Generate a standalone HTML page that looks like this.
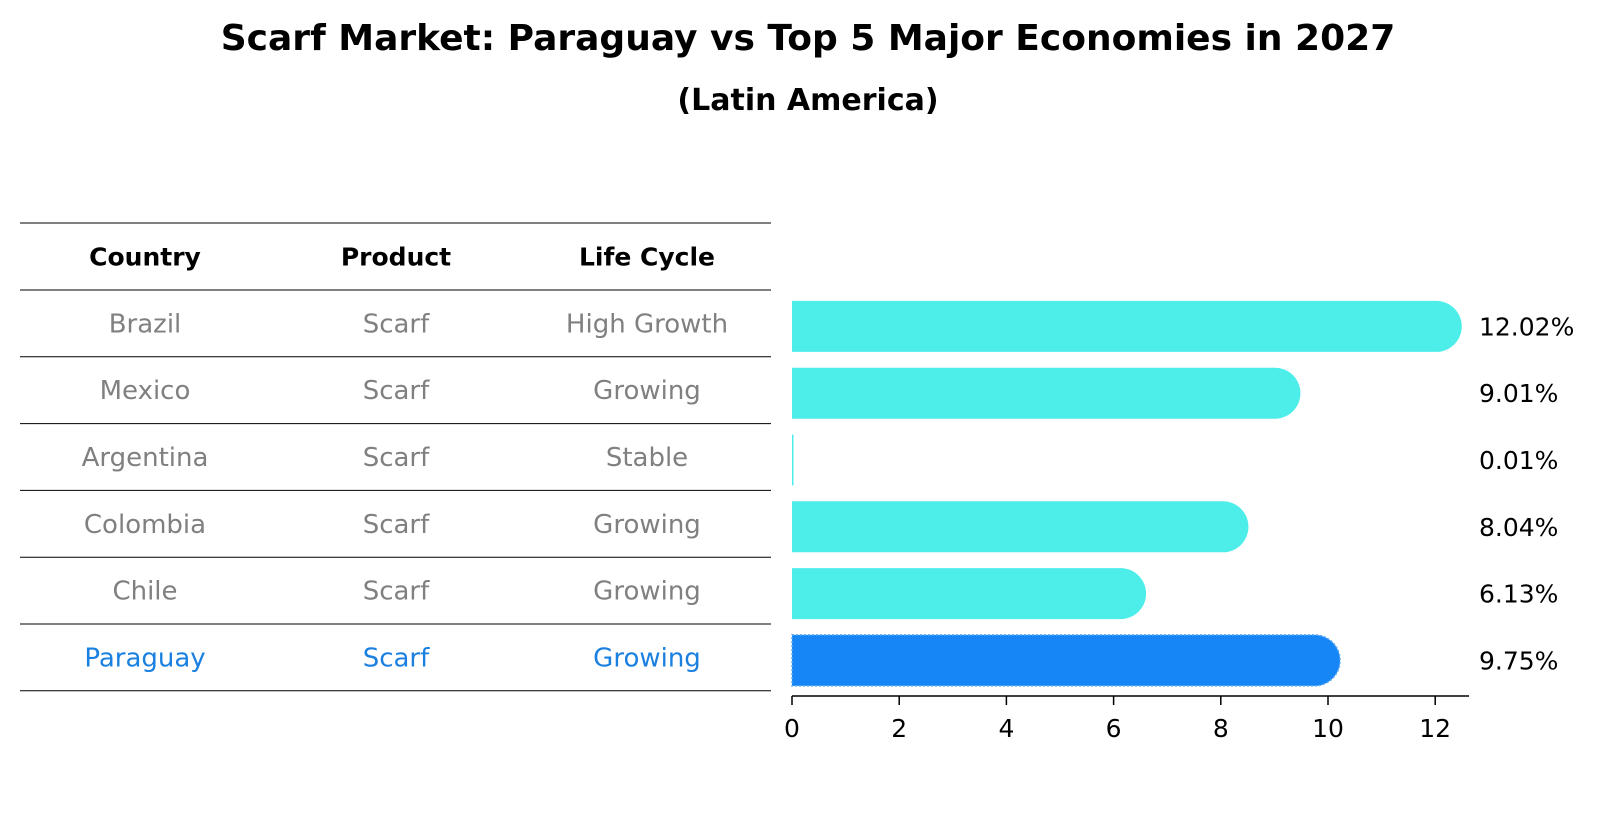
<!DOCTYPE html>
<html><head><meta charset="utf-8"><style>
body{margin:0;background:#fff;font-family:"DejaVu Sans","Liberation Sans",sans-serif;}
svg text{font-family:"DejaVu Sans","Liberation Sans",sans-serif;}
</style></head><body>
<svg id="chart" width="1604" height="823" viewBox="0 0 1604 823" xmlns="http://www.w3.org/2000/svg">
<text x="808" y="50" text-anchor="middle" font-size="36" font-weight="bold">Scarf Market: Paraguay vs Top 5 Major Economies in 2027</text>
<text x="808" y="110" text-anchor="middle" font-size="30" font-weight="bold">(Latin America)</text>
<g id="table"></g>
<g id="bars"></g>
<g id="axis"></g>
</svg>
<script>
const countries=["Brazil","Mexico","Argentina","Colombia","Chile","Paraguay"];
const products=["Scarf","Scarf","Scarf","Scarf","Scarf","Scarf"];
const lifeCycles=["High Growth","Growing","Stable","Growing","Growing","Growing"];
const values=[12.02,9.01,0.01,8.04,6.13,9.75];
const ticks=[0,2,4,6,8,10,12];
const NS="http://www.w3.org/2000/svg";
function mk(tag,attrs,parent){const e=document.createElementNS(NS,tag);for(const k in attrs)e.setAttribute(k,attrs[k]);parent.appendChild(e);return e;}
const x0=792,pxPer=53.6;
function xs(v){return x0+v*pxPer;}
const rowTop=290,rowH=66.8,headTop=223;
function rowCy(i){return rowTop+rowH*i+rowH/2;}
const table=document.getElementById('table');
const colX=[145,396,647];
const heads=["Country","Product","Life Cycle"];
heads.forEach((h,j)=>{const t=mk('text',{x:colX[j],y:headTop+rowH/2+9,'text-anchor':'middle','font-size':'25','font-weight':'bold'},table);t.textContent=h;

});
for(let i=0;i<=countries.length+1;i++){const y=i===0?headTop:rowTop+rowH*(i-1);const l=mk('line',{x1:20,x2:771,y1:y,y2:y,stroke:'#000','stroke-width':1},table);

}
countries.forEach((c,i)=>{const col=i===countries.length-1?'#1a80e0':'#808080';
[c,products[i],lifeCycles[i]].forEach((v,j)=>{const t=mk('text',{x:colX[j],y:rowCy(i)+9,'text-anchor':'middle','font-size':'26',fill:col},table);t.textContent=v;

});});
const bars=document.getElementById('bars');
const bh=51;
values.forEach((v,i)=>{const cy=rowCy(i)+3;const last=i===values.length-1;const col=last?'#1685f5':'#4deeea';
const w=xs(v)-x0;const r=v>0.5?bh/2:0;
const d=`M${x0},${cy-bh/2} H${x0+w} A${r},${r} 0 0 1 ${x0+w},${cy+bh/2} H${x0} Z`;
const p=mk('path',{d:d,fill:col},bars);
if(last){p.setAttribute('stroke','#5aaaf8');p.setAttribute('stroke-dasharray','2,2');p.setAttribute('stroke-width','1.5');}
if(v<=0.5){p.setAttribute('d',`M${x0},${cy-bh/2} H${x0+Math.max(w,1.5)} V${cy+bh/2} H${x0} Z`);}


const t=mk('text',{x:1479,y:cy+9,'font-size':'25'},bars);t.textContent=v.toFixed(2)+'%';

});
const axis=document.getElementById('axis');
const ay=696;
const al=mk('line',{x1:x0,x2:1469,y1:ay,y2:ay,stroke:'#000','stroke-width':1.5},axis);


ticks.forEach(tv=>{const x=xs(tv);const l=mk('line',{x1:x,x2:x,y1:ay,y2:ay+9,stroke:'#000','stroke-width':1.5},axis);


const t=mk('text',{x:x,y:ay+41,'text-anchor':'middle','font-size':'25'},axis);t.textContent=tv;

});
</script>
</body></html>
